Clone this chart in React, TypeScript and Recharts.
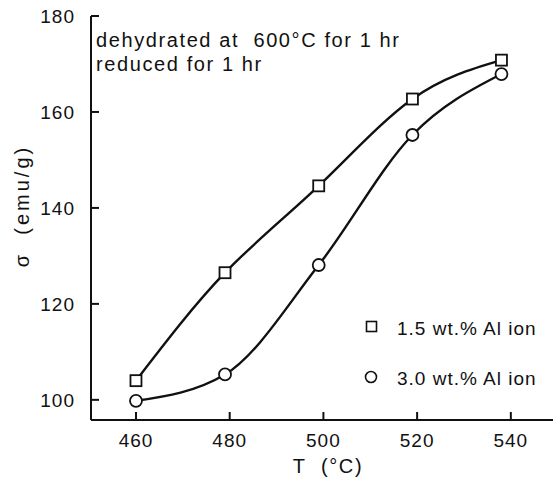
import React from 'react';
import { LineChart, Line, XAxis, YAxis, Customized } from 'recharts';

// temperatures (points sit slightly left of the 480..540 ticks)
const temps = [460, 479, 499, 519, 538];
const sigma15 = [104.0, 126.5, 144.6, 162.7, 170.8];
const sigma30 = [99.8, 105.3, 128.1, 155.2, 167.9];
const xTicks = [460, 480, 500, 520, 540];
const yTicks = [100, 120, 140, 160, 180];
const seriesNames = ['1.5 wt.% Al ion', '3.0 wt.% Al ion'];
const noteLines = ['dehydrated at\u00a0\u00a0600°C for 1 hr', 'reduced for 1 hr'];

const data = temps.map((t, i) => ({ t, a: sigma15[i], b: sigma30[i] }));

const FONT = '"Liberation Sans", Arial, sans-serif';
const INK = '#111';
const TICK_GAP = 16;

// ticks point inwards in the original, so the tick mark is drawn with the label
const YTick = (props: any) => {
  const { x, y, payload } = props;
  const ax = x + TICK_GAP;
  return (
    <g>
      <path d={`M${ax},${y}H${ax + 8}`} stroke={INK} strokeWidth={2} />
      <text x={x} y={y} dy="0.36em" textAnchor="end" fill={INK} fontSize={19} fontFamily={FONT} style={{ letterSpacing: 1 }}>
        {payload.value}
      </text>
    </g>
  );
};

const XTick = (props: any) => {
  const { x, y, payload } = props;
  const ay = y - 14;
  return (
    <g>
      <path d={`M${x},${ay}V${ay - 8}`} stroke={INK} strokeWidth={2} />
      <text x={x} y={y} dy="0.71em" textAnchor="middle" fill={INK} fontSize={19} fontFamily={FONT} style={{ letterSpacing: 1 }}>
        {payload.value}
      </text>
    </g>
  );
};

const SquareDot = (props: any) => {
  const { cx, cy } = props;
  if (cx == null || cy == null) return null;
  return <rect x={cx - 5.5} y={cy - 5.5} width={11} height={11} fill="#fff" stroke={INK} strokeWidth={1.8} />;
};

const CircleDot = (props: any) => {
  const { cx, cy } = props;
  if (cx == null || cy == null) return null;
  return <circle cx={cx} cy={cy} r={6} fill="#fff" stroke={INK} strokeWidth={1.8} />;
};

const Notes = () => (
  <g fontFamily={FONT} fontSize={20} fill={INK} style={{ letterSpacing: 1.6 }}>
    <text x={96} y={47}>{noteLines[0]}</text>
    <text x={96} y={71}>{noteLines[1]}</text>
    {/* legend */}
    <rect x={366.5} y={321.5} width={10} height={10} fill="#fff" stroke={INK} strokeWidth={1.6} />
    <text x={397} y={335} fontSize={19} style={{ letterSpacing: 1 }}>{seriesNames[0]}</text>
    <circle cx={371} cy={377} r={5.5} fill="#fff" stroke={INK} strokeWidth={1.6} />
    <text x={397} y={385} fontSize={19} style={{ letterSpacing: 1 }}>{seriesNames[1]}</text>
    {/* axis titles */}
    <text x={328} y={473} textAnchor="middle">{'T\u00a0\u00a0(°C)'}</text>
    <text x={0} y={0} textAnchor="middle" transform="translate(29,206) rotate(-90)" style={{ letterSpacing: 3 }}>
      {'σ\u00a0\u00a0(emu/g)'}
    </text>
  </g>
);

export default function App() {
  return (
    <div style={{ position: 'absolute', left: 0, top: 0, background: '#fff' }}>
      <LineChart width={554} height={477} data={data} margin={{ top: 16, right: 1, bottom: 12, left: 0 }}>
        <XAxis
          xAxisId="b"
          dataKey="t"
          type="number"
          domain={[450.4, 549]}
          ticks={xTicks}
          allowDataOverflow
          height={45}
          tickSize={0}
          tickMargin={14}
          tickLine={false}
          axisLine={{ stroke: INK, strokeWidth: 2 }}
          tick={XTick}
        />
        <XAxis xAxisId="top" orientation="top" dataKey="t" type="number" domain={[450.4, 549]} height={0} tick={false} tickLine={false} axisLine={{ stroke: INK, strokeWidth: 2 }} />
        <YAxis
          yAxisId="l"
          type="number"
          domain={[95.8, 180]}
          ticks={yTicks}
          allowDataOverflow
          width={91}
          tickSize={0}
          tickMargin={TICK_GAP}
          tickLine={false}
          axisLine={{ stroke: INK, strokeWidth: 2 }}
          tick={YTick}
        />
        <YAxis yAxisId="r" orientation="right" type="number" domain={[95.8, 180]} width={0} tick={false} tickLine={false} axisLine={{ stroke: INK, strokeWidth: 1.5 }} />
        <Line xAxisId="b" yAxisId="l" type="natural" dataKey="a" stroke={INK} strokeWidth={2.4} dot={<SquareDot />} isAnimationActive={false} />
        <Line xAxisId="b" yAxisId="l" type="monotone" dataKey="b" stroke={INK} strokeWidth={2.4} dot={<CircleDot />} isAnimationActive={false} />
        <Customized component={Notes} />
      </LineChart>
    </div>
  );
}
